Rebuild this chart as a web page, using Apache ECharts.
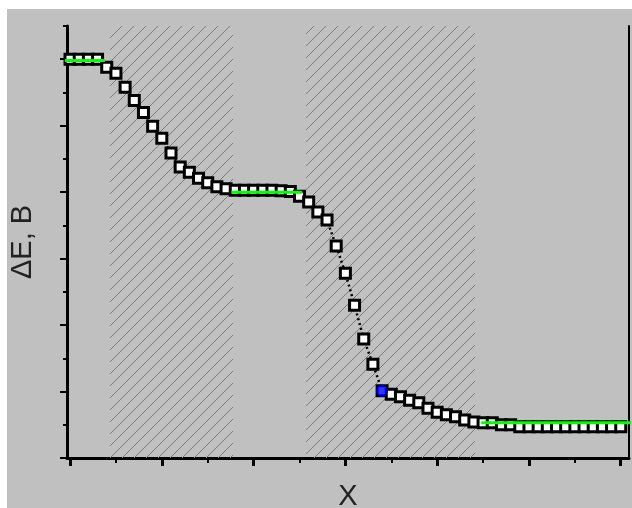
<!DOCTYPE html>
<html lang="en">
<head>
    <meta charset="UTF-8">
    <title>dE vs X</title>
    <script src="https://cdn.jsdelivr.net/npm/echarts@6/dist/echarts.min.js"></script>
    <style>
        html, body { margin: 0; padding: 0; background: #ffffff; }
        #chart { position: absolute; left: 7px; top: 9px; width: 625px; height: 499px; background: #c0c0c0; }
    </style>
</head>
<body>
<div id="chart"></div>
<script>
    // data
    var xVals = [0.0, 0.1, 0.2, 0.3, 0.4, 0.5, 0.6, 0.7, 0.8, 0.9,
                 1.0, 1.1, 1.2, 1.3, 1.4, 1.5, 1.6, 1.7, 1.8, 1.9,
                 2.0, 2.1, 2.2, 2.3, 2.4, 2.5, 2.6, 2.7, 2.8, 2.9,
                 3.0, 3.1, 3.2, 3.3, 3.4, 3.5, 3.6, 3.7, 3.8, 3.9,
                 4.0, 4.1, 4.2, 4.3, 4.4, 4.5, 4.6, 4.7, 4.8, 4.9,
                 5.0, 5.1, 5.2, 5.3, 5.4, 5.5, 5.6, 5.7, 5.8, 5.9, 6.0];
    var dE = [6.00, 6.00, 6.00, 6.00, 5.88, 5.79, 5.58, 5.38, 5.20, 4.99,
              4.81, 4.59, 4.38, 4.30, 4.21, 4.14, 4.08, 4.05, 4.03, 4.03,
              4.03, 4.03, 4.03, 4.02, 4.01, 3.94, 3.85, 3.70, 3.58, 3.19,
              2.78, 2.30, 1.79, 1.41, 1.01, 0.96, 0.92, 0.87, 0.83, 0.75,
              0.69, 0.65, 0.62, 0.57, 0.54, 0.53, 0.53, 0.50, 0.50, 0.47,
              0.47, 0.47, 0.47, 0.47, 0.47, 0.47, 0.47, 0.47, 0.47, 0.47, 0.47];
    // green fit segments on the plateaus
    var greenTop = [[-0.11, 5.98], [0.38, 5.98]];
    var greenMid = [[1.76, 4.00], [2.53, 4.00]];
    var greenLow = [[4.48, 0.53], [6.12, 0.53]];
    // highlighted point
    var bluePoint = [[3.4, 1.01]];
    // hatched x ranges
    var hatchRanges = [[0.436, 1.776], [2.571, 4.412]];
    // tick values
    var xMajor = [0, 1, 2, 3, 4, 5, 6];
    var xMinor = [0.5, 1.5, 2.5, 3.5, 4.5, 5.5];
    var yMajor = [0, 1, 2, 3, 4, 5, 6];
    var yMinor = [0.5, 1.5, 2.5, 3.5, 4.5, 5.5, 6.5];

    var xMin = -0.033, xMax = 6.09;
    var yMin = 0, yMax = 6.5;

    // diagonal hatch pattern
    var tile = document.createElement('canvas');
    tile.width = 12;
    tile.height = 12;
    var ctx = tile.getContext('2d');
    ctx.strokeStyle = '#7c7c7c';
    ctx.lineWidth = 1;
    ctx.beginPath();
    ctx.moveTo(0, 12); ctx.lineTo(12, 0);
    ctx.moveTo(-2, 2); ctx.lineTo(2, -2);
    ctx.moveTo(10, 14); ctx.lineTo(14, 10);
    ctx.stroke();

    var pts = [];
    for (var i = 0; i < xVals.length; i++) {
        pts.push([xVals[i], dE[i]]);
    }
    var areas = hatchRanges.map(function (r) {
        return [{ xAxis: r[0] }, { xAxis: r[1] }];
    });

    var ink = '#000000';
    var nameFont = { fontFamily: 'Liberation Sans', fontSize: 29, color: '#222222' };

    function greenLine(d) {
        return {
            type: 'line', data: d, symbol: 'none', clip: false, z: 5,
            lineStyle: { color: '#00ff00', width: 3 }, animation: false
        };
    }

    var chart = echarts.init(document.getElementById('chart'));
    chart.setOption({
        animation: false,
        grid: { left: 60, top: 17, right: 3, bottom: 50, outerBoundsMode: 'none', containLabel: false },
        xAxis: [{
            type: 'value', min: xMin, max: xMax, position: 'bottom',
            name: 'X', nameLocation: 'middle', nameGap: 24, nameTextStyle: nameFont,
            axisLine: { show: true, onZero: false, lineStyle: { color: ink, width: 3 } },
            axisTick: { show: true, customValues: xMajor, length: 8, lineStyle: { color: ink, width: 3 } },
            axisLabel: { show: false },
            splitLine: { show: false }
        }, {
            type: 'value', min: xMin, max: xMax, position: 'bottom',
            axisLine: { show: false, onZero: false },
            axisTick: { show: true, customValues: xMinor, length: 5, lineStyle: { color: ink, width: 2 } },
            axisLabel: { show: false },
            splitLine: { show: false }
        }],
        yAxis: [{
            type: 'value', min: yMin, max: yMax, position: 'left',
            name: 'ΔE, B', nameLocation: 'middle', nameGap: 30, nameTextStyle: nameFont,
            axisLine: { show: true, onZero: false, lineStyle: { color: ink, width: 3 } },
            axisTick: { show: true, customValues: yMajor, length: 7, lineStyle: { color: ink, width: 2 } },
            axisLabel: { show: false },
            splitLine: { show: false }
        }, {
            type: 'value', min: yMin, max: yMax, position: 'left',
            axisLine: { show: false, onZero: false },
            axisTick: { show: true, customValues: yMinor, length: 4, lineStyle: { color: ink, width: 2 } },
            axisLabel: { show: false },
            splitLine: { show: false }
        }, {
            type: 'value', min: yMin, max: yMax, position: 'right',
            axisLine: { show: true, onZero: false, lineStyle: { color: ink, width: 2 } },
            axisTick: { show: false },
            axisLabel: { show: false },
            splitLine: { show: false }
        }],
        series: [{
            // dotted connecting line + hatched ranges
            type: 'line', data: pts, symbol: 'none', z: 2,
            lineStyle: { color: ink, width: 2.5, type: [2, 3] },
            markArea: {
                silent: true,
                itemStyle: { color: { image: tile, repeat: 'repeat' } },
                data: areas
            }
        }, {
            type: 'scatter', data: pts, symbol: 'rect', symbolSize: 10, z: 3,
            itemStyle: { color: '#ffffff', borderColor: ink, borderWidth: 3, opacity: 1 }
        },
            greenLine(greenTop),
            greenLine(greenMid),
            greenLine(greenLow),
        {
            type: 'scatter', data: bluePoint, symbol: 'circle', symbolSize: 12, z: 6,
            itemStyle: { color: '#0000ff' }
        }]
    });
</script>
</body>
</html>
